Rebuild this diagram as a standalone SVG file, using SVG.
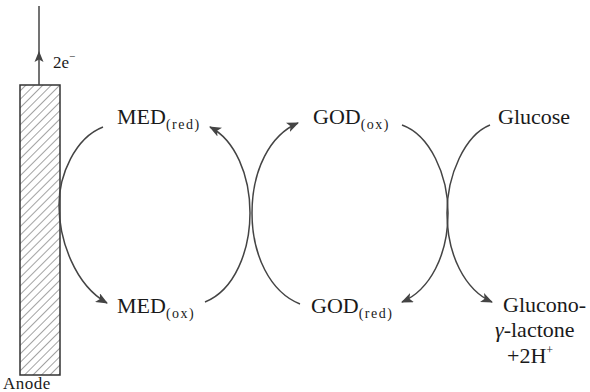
<svg xmlns="http://www.w3.org/2000/svg" width="590" height="392" viewBox="0 0 590 392">
<style>
text{font-family:"Liberation Serif","Times New Roman",serif;fill:#1a1a1a}
.big{font-size:22px}
.sub{font-size:14px;letter-spacing:1.5px}
.arc{fill:none;stroke:#444;stroke-width:1.5}
</style>
<defs>
<marker id="ah" viewBox="0 0 12 10" refX="11" refY="5" markerWidth="12" markerHeight="10" markerUnits="userSpaceOnUse" orient="auto">
<path d="M0,0 L12,5 L0,10 L3,5 Z" fill="#444"/>
</marker>
<pattern id="hatch" patternUnits="userSpaceOnUse" width="6" height="6" patternTransform="rotate(45)">
<line x1="0" y1="0" x2="0" y2="6" stroke="#333" stroke-width="0.9"/>
</pattern>
</defs>
<rect width="590" height="392" fill="#fff"/>
<g id="anode">
<rect x="20" y="85" width="40" height="290" fill="url(#hatch)" stroke="#333" stroke-width="1.5"/>
<line x1="39" y1="6" x2="39" y2="85" stroke="#444" stroke-width="1.5"/>
<path d="M39,51 L43.5,62 L39,59.5 L34.5,62 Z" fill="#444"/>
<text x="53" y="68" style="font-size:17px">2e</text>
<text x="69" y="60" style="font-size:11px">−</text>
<text x="3" y="389" style="font-size:17px;letter-spacing:0.5px">Anode</text>
</g>
<g id="med-red"><text x="117" y="124" class="big">MED<tspan class="sub" dy="5">(red)</tspan></text></g>
<g id="med-ox"><text x="117" y="313" class="big">MED<tspan class="sub" dy="5">(ox)</tspan></text></g>
<g id="god-ox"><text x="313" y="124" class="big">GOD<tspan class="sub" dy="5">(ox)</tspan></text></g>
<g id="god-red"><text x="311" y="313" class="big">GOD<tspan class="sub" dy="5">(red)</tspan></text></g>
<g id="glucose"><text x="498" y="124" class="big">Glucose</text></g>
<g id="gluconolactone">
<text x="503" y="312" class="big">Glucono-</text>
<text x="495" y="337" class="big"><tspan font-style="italic">γ</tspan>-lactone</text>
<text x="507" y="363" class="big">+2H<tspan style="font-size:12px" dy="-9">+</tspan></text>
</g>
<g id="connectors">
<path class="arc" d="M103,127 C75,138 59,175 59,205 C59,240 75,285 107,303" marker-end="url(#ah)"/>
<path class="arc" d="M205,302 C235,290 250,250 250,213 C250,175 235,140 210,127" marker-end="url(#ah)"/>
<path class="arc" d="M300,304 C270,292 252,255 252,213 C252,170 270,135 298,123" marker-end="url(#ah)"/>
<path class="arc" d="M402,125 C430,135 448,175 448,213 C448,255 430,290 402,302" marker-end="url(#ah)"/>
<path class="arc" d="M490,125 C465,135 447,175 447,213 C447,255 465,290 492,302" marker-end="url(#ah)"/>
</g>
</svg>
